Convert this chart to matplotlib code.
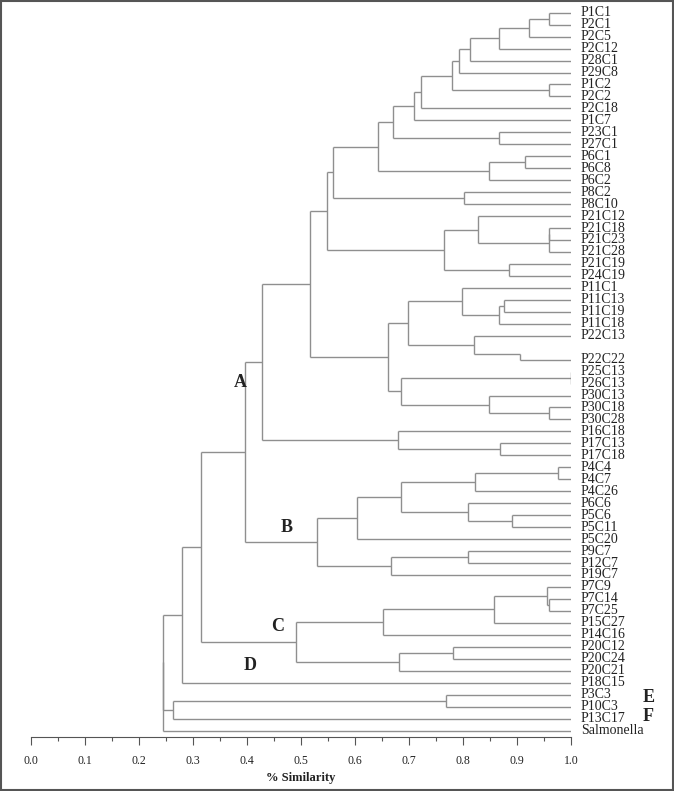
import numpy as np
import matplotlib
matplotlib.use("Agg")
import matplotlib.pyplot as plt
from matplotlib.patches import Rectangle

plt.rcParams['font.family'] = ['Liberation Serif', 'DejaVu Serif']

# leaf order, top to bottom ("" = empty row in the original figure)
leaves = ["P1C1", "P2C1", "P2C5", "P2C12", "P28C1", "P29C8", "P1C2", "P2C2",
          "P2C18", "P1C7", "P23C1", "P27C1", "P6C1", "P6C8", "P6C2", "P8C2",
          "P8C10", "P21C12", "P21C18", "P21C23", "P21C28", "P21C19", "P24C19",
          "P11C1", "P11C13", "P11C19", "P11C18", "P22C13", "", "P22C22",
          "P25C13", "P26C13", "P30C13", "P30C18", "P30C28", "P16C18", "P17C13",
          "P17C18", "P4C4", "P4C7", "P4C26", "P6C6", "P5C6", "P5C11", "P5C20",
          "P9C7", "P12C7", "P19C7", "P7C9", "P7C14", "P7C25", "P15C27", "P14C16",
          "P20C12", "P20C24", "P20C21", "P18C15", "P3C3", "P10C3", "P13C17",
          "Salmonella"]

# merges: (node, child 1, child 2, similarity)
merges = [
    ("a", "P1C1", "P2C1", 0.960),
    ("b", "a", "P2C5", 0.923),
    ("c", "b", "P2C12", 0.866),
    ("d", "c", "P28C1", 0.813),
    ("e", "d", "P29C8", 0.793),
    ("f", "P1C2", "P2C2", 0.959),
    ("g", "e", "f", 0.779),
    ("h", "g", "P2C18", 0.723),
    ("i", "h", "P1C7", 0.710),
    ("j", "P23C1", "P27C1", 0.867),
    ("k", "i", "j", 0.671),
    ("l", "P6C1", "P6C8", 0.914),
    ("m", "l", "P6C2", 0.848),
    ("n", "k", "m", 0.643),
    ("o", "P8C2", "P8C10", 0.802),
    ("p", "n", "o", 0.560),
    ("r0", "P21C18", "P21C23", 0.959),
    ("r", "r0", "P21C28", 0.959),
    ("s", "P21C12", "r", 0.828),
    ("t", "P21C19", "P24C19", 0.885),
    ("u", "s", "t", 0.764),
    ("q", "p", "u", 0.548),
    ("v", "P11C13", "P11C19", 0.875),
    ("w", "v", "P11C18", 0.866),
    ("x1", "P11C1", "w", 0.798),
    ("z906", "", "P22C22", 0.906),
    ("p22", "P22C13", "z906", 0.820),
    ("y1", "x1", "p22", 0.698),
    ("d1", "P25C13", "P26C13", 1.000),
    ("aa", "P30C18", "P30C28", 0.960),
    ("bb", "P30C13", "aa", 0.849),
    ("cc", "d1", "bb", 0.686),
    ("z1", "y1", "cc", 0.661),
    ("ff", "q", "z1", 0.517),
    ("ee", "P17C13", "P17C18", 0.868),
    ("dd", "P16C18", "ee", 0.679),
    ("a1", "ff", "dd", 0.428),
    ("n1", "P4C4", "P4C7", 0.975),
    ("n2", "n1", "P4C26", 0.823),
    ("n3", "P5C6", "P5C11", 0.891),
    ("n4", "P6C6", "n3", 0.809),
    ("n5", "n2", "n4", 0.686),
    ("n6", "n5", "P5C20", 0.604),
    ("n7", "P9C7", "P12C7", 0.809),
    ("n8", "n7", "P19C7", 0.667),
    ("nb", "n6", "n8", 0.529),
    ("ab", "a1", "nb", 0.396),
    ("n9", "P7C14", "P7C25", 0.959),
    ("gg", "P7C9", "n9", 0.956),
    ("hh", "gg", "P15C27", 0.858),
    ("ii", "hh", "P14C16", 0.6525),
    ("jj", "P20C12", "P20C24", 0.782),
    ("kk", "jj", "P20C21", 0.682),
    ("nc", "ii", "kk", 0.490),
    ("mm", "ab", "nc", 0.315),
    ("nd", "mm", "P18C15", 0.280),
    ("n10", "P3C3", "P10C3", 0.7685),
    ("nef", "n10", "P13C17", 0.2636),
    ("inner", "nd", "nef", 0.245),
    ("root", "inner", "Salmonella", 0.245),
]

# cluster letters: (letter, similarity, row)
group_labels = [("A", 0.387, 30.9), ("B", 0.474, 43.0), ("C", 0.457, 51.3),
                ("D", 0.406, 54.6), ("E", 1.143, 57.2), ("F", 1.143, 58.8)]

ticks = np.round(np.arange(0, 1.01, 0.1), 1)

fig = plt.figure(figsize=(6.74, 7.91), dpi=100)
ax = fig.add_axes([31 / 674, 1 - 736.5 / 791, 540 / 674, 736.5 / 791])

col = '#8f8f8f'
pos = {}
for idx, name in enumerate(leaves):
    pos[name] = (1.0, idx)

for node, c1, c2, sim in merges:
    ys = []
    for ch in (c1, c2):
        cx, cy = pos[ch]
        if ch != "":
            ax.plot([sim, cx], [cy, cy], color=col, lw=1, solid_capstyle='butt')
            ys.append(cy)
    ny = (pos[c1][1] + pos[c2][1]) / 2
    ys.append(ny)
    ax.plot([sim, sim], [min(ys), max(ys)], color=col, lw=1, solid_capstyle='butt')
    pos[node] = (sim, ny)

for idx, name in enumerate(leaves):
    ax.text(1.018, idx, name, fontsize=10, va='center', ha='left', color='#222222')

for letter, gx, gy in group_labels:
    ax.text(gx, gy, letter, fontsize=13, fontweight='bold', ha='center', va='center',
            color='#222222', clip_on=False)

ax.set_xlim(0, 1.0)
ax.set_ylim(60.5, -1.06)
ax.set_xticks(ticks)
ax.set_xticklabels([f"{t:.1f}" for t in ticks], fontsize=8.5, color='#222222')
ax.set_xticks(np.arange(0.05, 1.0, 0.1), minor=True)
ax.tick_params(axis='x', which='major', length=6, width=0.8, color='#555555', pad=7)
ax.tick_params(axis='x', which='minor', length=3, width=0.8, color='#555555')
ax.set_yticks([])
for sp in ('top', 'right', 'left'):
    ax.spines[sp].set_visible(False)
ax.spines['bottom'].set_color('#555555')
ax.spines['bottom'].set_linewidth(0.8)
ax.patch.set_alpha(0)
ax.set_xlabel("% Similarity", fontsize=9, fontweight='bold', labelpad=4, color='#222222')

fig.patches.append(Rectangle((0.001, 0.001), 0.998, 0.998, transform=fig.transFigure,
                             fill=False, edgecolor='#555555', lw=1.5))

fig.savefig("out.png", dpi=100)
